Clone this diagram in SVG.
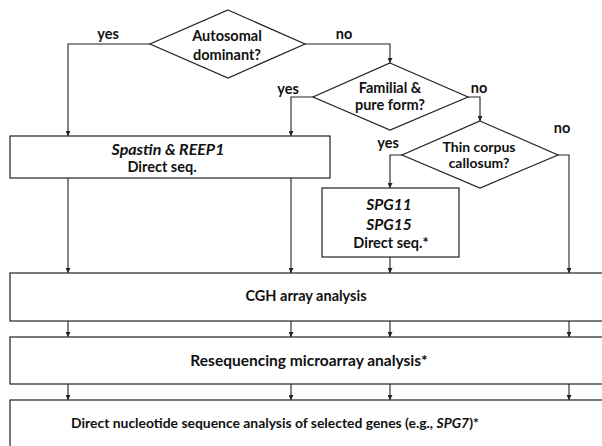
<svg xmlns="http://www.w3.org/2000/svg" width="602" height="446" viewBox="0 0 602 446">
<style>
  .sh { fill: #fff; stroke: #222; stroke-width: 1.2; }
  .ln { fill: none; stroke: #222; stroke-width: 1.1; }
  text { font-family: Lato, "Noto Sans", "Liberation Sans", sans-serif; font-weight: 700; font-size: 14.5px; fill: #111; text-anchor: middle; }
  .it { font-style: italic; }
  .big { font-size: 15.5px; }
  .sm { font-size: 14px; }
</style>
<defs>
  <marker id="ah" viewBox="0 0 10 10" refX="10" refY="5" markerWidth="5" markerHeight="5" orient="auto" markerUnits="userSpaceOnUse">
    <path d="M0,0 L10,5 L0,10 z" fill="#222"/>
  </marker>
</defs>
<rect width="602" height="446" fill="#fff"/>

<g id="connectors">
  <path class="ln" d="M150,44 H68 V136" marker-end="url(#ah)"/>
  <path class="ln" d="M305,44 H390 V63" marker-end="url(#ah)"/>
  <path class="ln" d="M313,97 H291 V136" marker-end="url(#ah)"/>
  <path class="ln" d="M468,97 H480 V121" marker-end="url(#ah)"/>
  <path class="ln" d="M402,155 H390 V188" marker-end="url(#ah)"/>
  <path class="ln" d="M558,155 H569 V273" marker-end="url(#ah)"/>
  <path class="ln" d="M68,178 V273" marker-end="url(#ah)"/>
  <path class="ln" d="M291,178 V273" marker-end="url(#ah)"/>
  <path class="ln" d="M390,257 V273" marker-end="url(#ah)"/>
  <path class="ln" d="M68,321 V337" marker-end="url(#ah)"/>
  <path class="ln" d="M291,321 V337" marker-end="url(#ah)"/>
  <path class="ln" d="M390,321 V337" marker-end="url(#ah)"/>
  <path class="ln" d="M569,321 V337" marker-end="url(#ah)"/>
  <path class="ln" d="M68,384 V400" marker-end="url(#ah)"/>
  <path class="ln" d="M291,384 V400" marker-end="url(#ah)"/>
  <path class="ln" d="M390,384 V400" marker-end="url(#ah)"/>
  <path class="ln" d="M569,384 V400" marker-end="url(#ah)"/>
  <text x="108" y="39">yes</text>
  <text x="344" y="39">no</text>
  <text x="288" y="94">yes</text>
  <text x="479" y="93">no</text>
  <text x="388" y="148">yes</text>
  <text x="562" y="133">no</text>
</g>

<g id="autosomal">
  <polygon class="sh" points="228,10 305,44 228,78 150,44"/>
  <text x="227" y="41">Autosomal</text>
  <text x="227" y="60">dominant?</text>
</g>
<g id="familial">
  <polygon class="sh" points="390,63 468,97 390,130 313,97"/>
  <text x="390" y="93">Familial &amp;</text>
  <text x="390" y="110">pure form?</text>
</g>
<g id="thin">
  <polygon class="sh" points="480,121 558,155 480,188 402,155"/>
  <text class="sm" x="479" y="152">Thin corpus</text>
  <text class="sm" x="479" y="168">callosum?</text>
</g>
<g id="spastin">
  <rect class="sh" x="10" y="136" width="320" height="42"/>
  <text class="it" x="168" y="155" style="font-size:16px">Spastin &amp; REEP1</text>
  <text x="162" y="172">Direct seq.</text>
</g>
<g id="spg">
  <rect class="sh" x="322" y="188" width="137" height="69"/>
  <text class="it big" x="389" y="210">SPG11</text>
  <text class="it big" x="389" y="230">SPG15</text>
  <text x="391" y="248">Direct seq.*</text>
</g>
<g id="cgh">
  <rect class="sh" x="10" y="273" width="600" height="48"/>
  <text x="306" y="301">CGH array analysis</text>
</g>
<g id="reseq">
  <rect class="sh" x="10" y="337" width="600" height="47"/>
  <text class="big" x="309" y="366">Resequencing microarray analysis*</text>
</g>
<g id="direct">
  <rect class="sh" x="10" y="400" width="600" height="60"/>
  <text x="275" y="428" style="font-size:13.9px">Direct nucleotide sequence analysis of selected genes (e.g., <tspan class="it">SPG7</tspan>)*</text>
</g>
</svg>
